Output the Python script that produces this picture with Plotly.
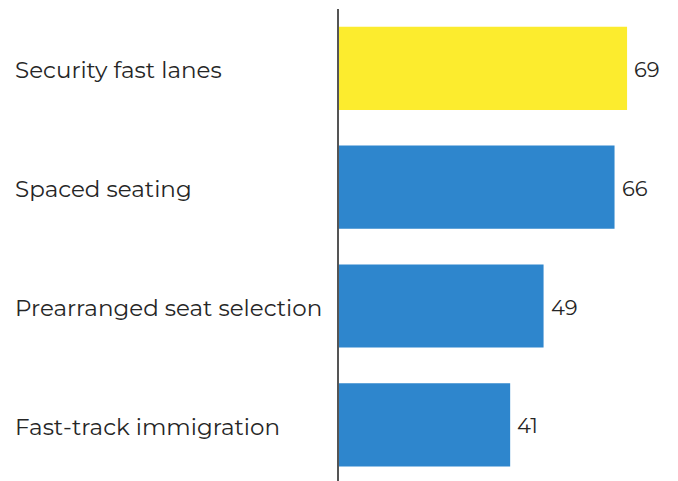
import plotly.graph_objects as go

categories = ["Security fast lanes", "Spaced seating", "Prearranged seat selection", "Fast-track immigration"]
values = [69, 66, 49, 41]
colors = ["#FCEC2E", "#2E86CD", "#2E86CD", "#2E86CD"]

FONT = "Montserrat, Lato, 'Noto Sans', sans-serif"
TEXT = "#262626"

fig = go.Figure(go.Bar(
    y=categories,
    x=values,
    orientation="h",
    marker=dict(color=colors, line=dict(width=0)),
    hoverinfo="skip",
))

annotations = []
for cat, val in zip(categories, values):
    # category label, left-aligned at the left edge of the figure
    annotations.append(dict(
        x=-0.962, xref="paper", y=cat, yref="y",
        text=cat, showarrow=False, xanchor="left", yanchor="middle",
        yshift=-2,
        font=dict(family=FONT, size=23, color=TEXT),
    ))
    # value label just past the bar end
    annotations.append(dict(
        x=val, xref="x", y=cat, yref="y",
        text=str(val), showarrow=False, xanchor="left", yanchor="middle",
        xshift=5, yshift=-1,
        font=dict(family=FONT, size=21, color=TEXT),
    ))

fig.update_layout(
    width=678, height=481,
    margin=dict(l=339, r=0, t=9, b=0),
    paper_bgcolor="white", plot_bgcolor="white",
    bargap=0.30,
    showlegend=False,
    annotations=annotations,
    xaxis=dict(range=[0, 81.2], visible=False, fixedrange=True),
    yaxis=dict(
        range=[3.473, -0.5],
        showticklabels=False, ticks="",
        showgrid=False, zeroline=False,
        showline=True, linecolor="#555555", linewidth=1.5,
        fixedrange=True,
    ),
)

fig.write_html("out.html")
